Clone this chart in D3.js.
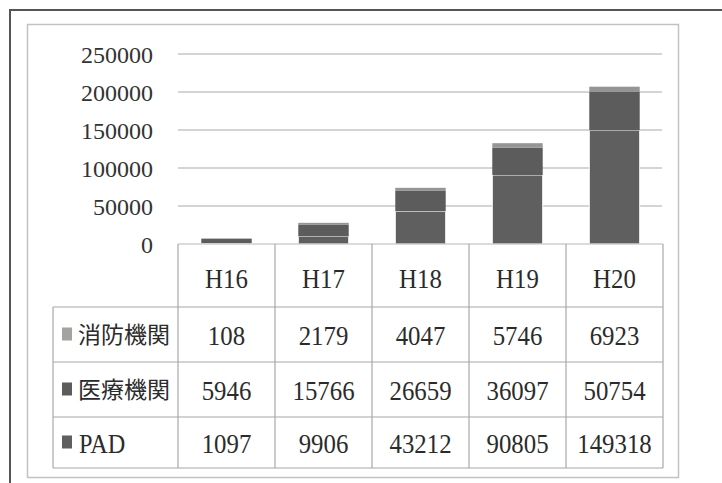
<!DOCTYPE html>
<html>
<head>
<meta charset="utf-8">
<script src="https://cdn.jsdelivr.net/npm/d3@7/dist/d3.min.js"></script>
<style>
  html, body { margin: 0; padding: 0; background: #fff; }
  svg { display: block; }
</style>
</head>
<body>
<svg id="chart" width="722" height="483"></svg>
<script>
// Yearly counts by source (stacked bottom-to-top: PAD, 医療機関, 消防機関)
const years = ["H16", "H17", "H18", "H19", "H20"];
const fireDept = [108, 2179, 4047, 5746, 6923];
const medical = [5946, 15766, 26659, 36097, 50754];
const pad = [1097, 9906, 43212, 90805, 149318];
const seriesNames = ["PAD", "医療機関", "消防機関"];
const seriesColors = ["#5f5f5f", "#5c5c5c", "#959595"];
const yTicks = [0, 50000, 100000, 150000, 200000, 250000];

const rows = years.map((y, i) => ({
  year: y,
  "PAD": pad[i],
  "医療機関": medical[i],
  "消防機関": fireDept[i]
}));

const svg = d3.select("#chart");
const serif = "'Liberation Serif', 'Times New Roman', serif";
const cjk = "'Noto Sans CJK JP', 'Noto Sans', sans-serif";
const ink = "#2b2b2b";

// Outer frame and inner chart box
svg.append("path")
  .attr("d", "M10,483 V10 H722")
  .attr("fill", "none").attr("stroke", "#555").attr("stroke-width", 2);
svg.append("rect")
  .attr("x", 27.5).attr("y", 24.5).attr("width", 651).attr("height", 453)
  .attr("fill", "none").attr("stroke", "#c2c2c2").attr("stroke-width", 1.5);

// Scales
const plotLeft = 178, plotRight = 663, plotTop = 54, plotBottom = 244;
const x = d3.scaleBand().domain(years).range([plotLeft, plotRight])
  .paddingInner(0.48).paddingOuter(0.24);
const col = d3.scaleBand().domain(years).range([plotLeft, plotRight]);
const y = d3.scaleLinear().domain([0, 250000]).range([plotBottom, plotTop]);

// Gridlines
svg.append("g").selectAll("line").data(yTicks.filter(t => t > 0)).join("line")
  .attr("x1", plotLeft).attr("x2", plotRight - 1)
  .attr("y1", d => y(d)).attr("y2", d => y(d))
  .attr("stroke", "#c6c6c6").attr("stroke-width", 1.5);

// Y axis labels
svg.append("g").selectAll("text").data(yTicks).join("text")
  .attr("x", 153).attr("y", d => y(d)).attr("dy", "0.36em")
  .attr("text-anchor", "end")
  .attr("font-family", serif).attr("font-size", 24).attr("fill", "#333")
  .text(d => d);

// Stacked bars; a thin white rule marks the top of the PAD segment
const stack = d3.stack().keys(seriesNames);
const stacked = stack(rows);
svg.append("g").selectAll("g").data(stacked).join("g")
  .attr("fill", (d, i) => seriesColors[i])
  .attr("stroke", (d, i) => i === 0 ? "#fff" : "none")
  .attr("stroke-width", 1)
  .selectAll("rect").data(d => d).join("rect")
  .attr("x", d => x(d.data.year))
  .attr("width", x.bandwidth())
  .attr("y", d => y(d[1]))
  .attr("height", d => y(d[0]) - y(d[1]));

// Data table
const tableLeft = 53;
const rowEdges = [244, 307, 362, 417, 468];
const lineColor = "#a8a8a8";
const tbl = svg.append("g");

// horizontal rules
rowEdges.forEach((ry, i) => {
  tbl.append("line")
    .attr("x1", i === 0 ? plotLeft : tableLeft).attr("x2", plotRight)
    .attr("y1", ry).attr("y2", ry)
    .attr("stroke", i === 0 ? "#b8b8b8" : lineColor).attr("stroke-width", 1.2);
});
// vertical rules
const colEdges = years.map(d => col(d)).concat([plotRight]);
colEdges.forEach(cx => {
  tbl.append("line")
    .attr("x1", cx).attr("x2", cx)
    .attr("y1", rowEdges[0]).attr("y2", rowEdges[4])
    .attr("stroke", lineColor).attr("stroke-width", 1.2);
});
tbl.append("line")
  .attr("x1", tableLeft).attr("x2", tableLeft)
  .attr("y1", rowEdges[1]).attr("y2", rowEdges[4])
  .attr("stroke", lineColor).attr("stroke-width", 1.2);

// slightly condensed serif text helper
function cellText(g, cx, cy, str, size, anchor) {
  g.append("text")
    .attr("transform", `translate(${cx},${cy}) scale(0.92,1.05)`)
    .attr("dy", "0.38em")
    .attr("text-anchor", anchor || "middle")
    .attr("font-family", serif).attr("font-size", size).attr("fill", ink)
    .text(str);
}

// header row: year labels
years.forEach(yr => {
  cellText(tbl, col(yr) + col.bandwidth() / 2, (rowEdges[0] + rowEdges[1]) / 2 + 2, yr, 27);
});

// series rows, top to bottom in reverse stacking order
const tableSeries = [
  { name: "消防機関", values: fireDept, color: "#a3a3a3" },
  { name: "医療機関", values: medical, color: seriesColors[1] },
  { name: "PAD", values: pad, color: seriesColors[0] }
];
tableSeries.forEach((s, r) => {
  const cy = (rowEdges[r + 1] + rowEdges[r + 2]) / 2;
  tbl.append("rect")
    .attr("x", 62).attr("y", cy - 7).attr("width", 10).attr("height", 13)
    .attr("fill", s.color);
  if (s.name === "PAD") {
    tbl.append("text")
      .attr("transform", `translate(79,${cy}) scale(0.9,1.05)`)
      .attr("dy", "0.36em")
      .attr("font-family", serif).attr("font-size", 27).attr("fill", ink)
      .text(s.name);
  } else {
    tbl.append("text")
      .attr("x", 78).attr("y", cy).attr("dy", "0.36em")
      .attr("font-family", cjk).attr("font-size", 23).attr("fill", ink)
      .text(s.name);
  }
  s.values.forEach((v, i) => {
    cellText(tbl, col(years[i]) + col.bandwidth() / 2, cy, v, 27);
  });
});
</script>
</body>
</html>
